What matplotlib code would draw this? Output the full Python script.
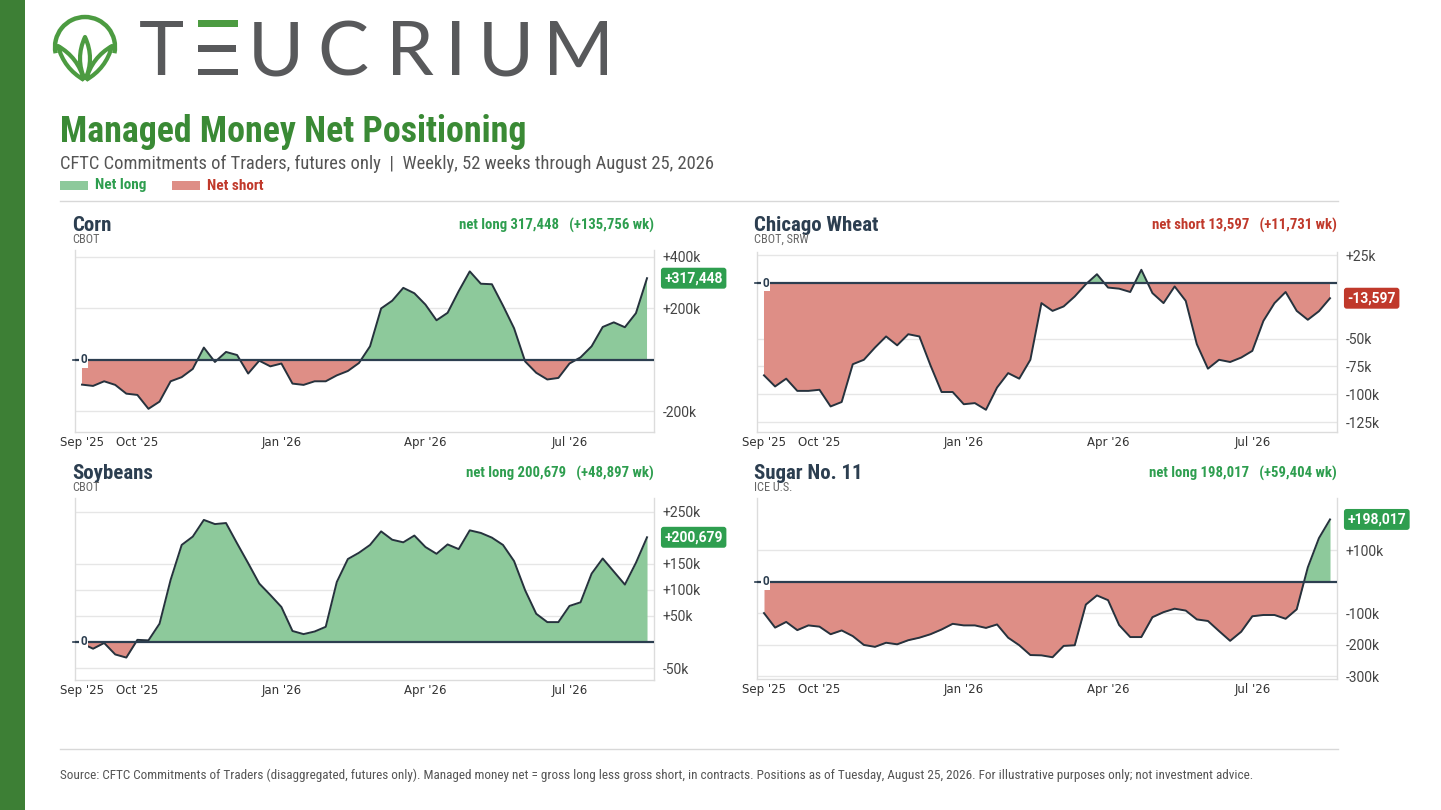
import numpy as np
import matplotlib
matplotlib.use("Agg")
import matplotlib.pyplot as plt
from matplotlib import font_manager as fm
from matplotlib.patches import Rectangle, Arc, PathPatch
from matplotlib.path import Path
import matplotlib.transforms as mtransforms


def pick(*names):
    for n in names:
        try:
            fm.findfont(fm.FontProperties(family=n), fallback_to_default=False)
            return n
        except Exception:
            pass
    return "DejaVu Sans"


COND = pick("Roboto Condensed", "Liberation Sans Narrow", "Open Sans Condensed", "Roboto")
SANS = pick("Roboto", "DejaVu Sans")
LOGO = pick("Lato", "Open Sans", "DejaVu Sans")

# weekly data, 52 weeks (Sep 2 2025 .. Aug 25 2026), thousands of contracts
week_ticks = [0, 5, 18, 31, 44]
week_labels = ["Sep '25", "Oct '25", "Jan '26", "Apr '26", "Jul '26"]

corn = [-96, -101, -83, -97, -131, -136, -190, -162, -83, -67,
        -35, 48, -8, 31, 19, -53, -3, -25, -14, -92,
        -97, -83, -83, -60, -43, -12, 53, 200, 230, 280,
        259, 215, 154, 183, 267, 344, 296, 294, 211, 123,
        -6, -50, -76, -70, -14, 10, 53, 128, 146, 127,
        181.692, 317.448]
wheat = [-83, -93, -86, -97, -97, -96, -111, -107, -73, -69,
         -58, -48, -56, -46, -48, -74, -98, -98, -109, -108,
         -114, -94, -81, -86, -69, -18, -25, -21, -12, -1,
         8, -4, -5, -8, 12, -9, -18, -3, -16, -55,
         -77, -69, -71, -67, -61, -34, -18, -8, -25, -33,
         -25.328, -13.597]
soybeans = [-3, -13, -2, -24, -30, 4, 3, 35, 119, 186,
            202, 234, 226, 228, 189, 151, 112, 90, 67, 21,
            15, 20, 29, 115, 159, 171, 186, 212, 196, 191,
            204, 182, 169, 187, 178, 214, 209, 200, 186, 155,
            99, 54, 38, 38, 69, 76, 131, 160, 135, 110,
            151.782, 200.679]
sugar = [-99, -145, -127, -153, -138, -142, -166, -154, -172, -200,
         -206, -193, -198, -185, -177, -166, -151, -133, -138, -138,
         -146, -135, -177, -201, -232, -233, -239, -203, -201, -72,
         -43, -58, -137, -175, -175, -112, -96, -85, -91, -119,
         -124, -156, -187, -158, -109, -105, -105, -117, -87, 46,
         138.613, 198.017]

panels = [
    dict(name="Corn", exch="CBOT", data=corn, header="net long 317,448   (+135,756 wk)",
         badge="+317,448", ylim=(-280, 427), ticks=[400, 200, -200],
         rect=(75, 250, 654, 432), top=250),
    dict(name="Chicago Wheat", exch="CBOT, SRW", data=wheat, header="net short 13,597   (+11,731 wk)",
         badge="-13,597", ylim=(-134, 28), ticks=[25, -50, -75, -100, -125],
         rect=(757, 252, 1337, 432), top=250),
    dict(name="Soybeans", exch="CBOT", data=soybeans, header="net long 200,679   (+48,897 wk)",
         badge="+200,679", ylim=(-73, 276), ticks=[250, 150, 100, 50, -50],
         rect=(75, 498, 654, 680), top=498),
    dict(name="Sugar No. 11", exch="ICE U.S.", data=sugar, header="net long 198,017   (+59,404 wk)",
         badge="+198,017", ylim=(-308, 266), ticks=[100, -100, -200, -300],
         rect=(757, 498, 1337, 679), top=498),
]

GREEN_FILL = "#8dc99b"
RED_FILL = "#de8e86"
GREEN_TXT = "#2e9e4f"
RED_TXT = "#c0392b"
DARK = "#2c3e50"

W, H = 1441, 810
fig = plt.figure(figsize=(W / 100, H / 100), dpi=100)
fig.patch.set_facecolor("white")

bg = fig.add_axes([0, 0, 1, 1])
bg.set_xlim(0, W)
bg.set_ylim(H, 0)
bg.axis("off")

# left brand bar
bg.add_patch(Rectangle((0, 0), 25, H, color="#3d7f35", lw=0))

# logo icon
lg = "#4c9b41"
bg.add_patch(Arc((85, 47), 60, 60, theta1=168, theta2=372, color=lg, lw=3.2))


def leaf(p0, p1, bulge):
    p0, p1 = np.array(p0, float), np.array(p1, float)
    m = (p0 + p1) / 2
    d = p1 - p0
    n = np.array([-d[1], d[0]]) / np.hypot(*d)
    c1, c2 = m + n * bulge, m - n * bulge
    verts = [p0, c1, p1, c2, p0]
    codes = [Path.MOVETO, Path.CURVE3, Path.CURVE3, Path.CURVE3, Path.CURVE3]
    return PathPatch(Path(verts, codes), fc="none", ec=lg, lw=3.0, joinstyle="round")


bg.add_patch(leaf((85, 80), (85, 37), 10))
bg.add_patch(leaf((84, 80), (58, 46), 9))
bg.add_patch(leaf((86, 80), (112, 46), 9))

# wordmark
logo_gray = "#58595b"
for ch, cx in zip("TUCRIUM", [161, 276, 343, 410, 456, 506, 578]):
    bg.text(cx, 75, ch, ha="center", va="baseline", fontsize=55, family=LOGO,
            color=logo_gray)
bg.add_patch(Rectangle((198, 20), 40, 6.5, color="#4c9b41", lw=0))
bg.add_patch(Rectangle((198, 45), 38, 6.5, color=logo_gray, lw=0))
bg.add_patch(Rectangle((198, 68.5), 40, 6.5, color=logo_gray, lw=0))

# titles
bg.text(60, 142, "Managed Money Net Positioning", ha="left", va="baseline",
        fontsize=25.8, fontweight="bold", family=COND, color="#3a8a35")
bg.text(60, 164, "CFTC Commitments of Traders, futures only  |  Weekly, 52 weeks through August 25, 2026",
        ha="left", va="center", fontsize=13.3, family=COND, color="#555555")
bg.add_patch(Rectangle((60, 181), 28, 9, color=GREEN_FILL, lw=0))
bg.text(95, 185.5, "Net long", ha="left", va="center", fontsize=11, fontweight="bold",
        family=COND, color=GREEN_TXT)
bg.add_patch(Rectangle((172, 181), 28, 9, color=RED_FILL, lw=0))
bg.text(207, 185.5, "Net short", ha="left", va="center", fontsize=11, fontweight="bold",
        family=COND, color=RED_TXT)
bg.plot([60, 1338], [201, 201], color="#d8d8d8", lw=1)
bg.plot([60, 1338], [749, 749], color="#d8d8d8", lw=1)
bg.text(60, 775, "Source: CFTC Commitments of Traders (disaggregated, futures only). Managed money net = "
        "gross long less gross short, in contracts. Positions as of Tuesday, August 25, 2026. "
        "For illustrative purposes only; not investment advice.",
        ha="left", va="center", fontsize=9.5, family=COND, color="#555555")

x = np.arange(52)
for p in panels:
    x0, y0, x1, y1 = p["rect"]
    ax = fig.add_axes([x0 / W, 1 - y1 / H, (x1 - x0) / W, (y1 - y0) / H])
    y = np.array(p["data"], float)
    ax.fill_between(x, y, 0, where=y >= 0, interpolate=True, color=GREEN_FILL, lw=0)
    ax.fill_between(x, y, 0, where=y <= 0, interpolate=True, color=RED_FILL, lw=0)
    ax.plot(x, y, color="#26323d", lw=1.4, zorder=4)
    ax.axhline(0, color=DARK, lw=1.6, zorder=5)
    ax.set_xlim(-0.63, 51.63)
    ax.set_ylim(*p["ylim"])
    ax.set_xticks(week_ticks)
    ax.set_xticklabels(week_labels)
    ax.set_yticks(p["ticks"])
    ax.set_yticklabels([("+%dk" % t) if t > 0 else ("%dk" % t) for t in p["ticks"]])
    ax.yaxis.tick_right()
    ax.tick_params(axis="y", length=0, pad=6, labelsize=10, labelcolor="#444444")
    ax.tick_params(axis="x", length=0, pad=3, labelsize=8.5, labelcolor="#333333")
    for lab in ax.get_yticklabels():
        lab.set_family(SANS)
    ax.grid(axis="y", color="#e6e6e6", lw=1, zorder=0)
    ax.set_axisbelow(True)
    for s in ["left", "right", "bottom"]:
        ax.spines[s].set_color("#dcdcdc")
        ax.spines[s].set_linewidth(1)
    ax.spines["top"].set_visible(False)

    # zero marker on left
    tr = mtransforms.blended_transform_factory(ax.transAxes, ax.transData)
    ax.plot([-0.003, 0.003], [0, 0], color=DARK, lw=1.2, transform=tr, clip_on=False, zorder=6)
    ax.annotate("0", xy=(0, 0), xycoords=tr, xytext=(4, 0), textcoords="offset points",
                ha="left", va="center", fontsize=8.5, fontweight="bold", color=DARK, family=SANS,
                bbox=dict(boxstyle="square,pad=0.1", fc="white", ec="none"), zorder=7)

    # last value badge
    last = y[-1]
    col = GREEN_TXT if last >= 0 else RED_TXT
    ax.annotate(p["badge"], xy=(1, last), xycoords=tr, xytext=(7.5, 0), textcoords="offset points",
                ha="left", va="center", fontsize=10, fontweight="bold", color="white", family=SANS,
                bbox=dict(boxstyle="round,pad=0.25,rounding_size=0.2", fc=col, ec="none"),
                annotation_clip=False)

    # panel titles
    top = p["top"]
    bg.text(x0 - 3, top - 19, p["name"], ha="left", va="baseline", fontsize=15,
            fontweight="bold", family=COND, color=DARK)
    bg.text(x0 - 3, top - 10.5, p["exch"], ha="left", va="center", fontsize=8.8,
            family=COND, color="#666666")
    bg.text(x1, top - 25, p["header"], ha="right", va="center", fontsize=10.6,
            fontweight="bold", family=COND, color=col)

fig.savefig("out.png", dpi=100, facecolor="white")
